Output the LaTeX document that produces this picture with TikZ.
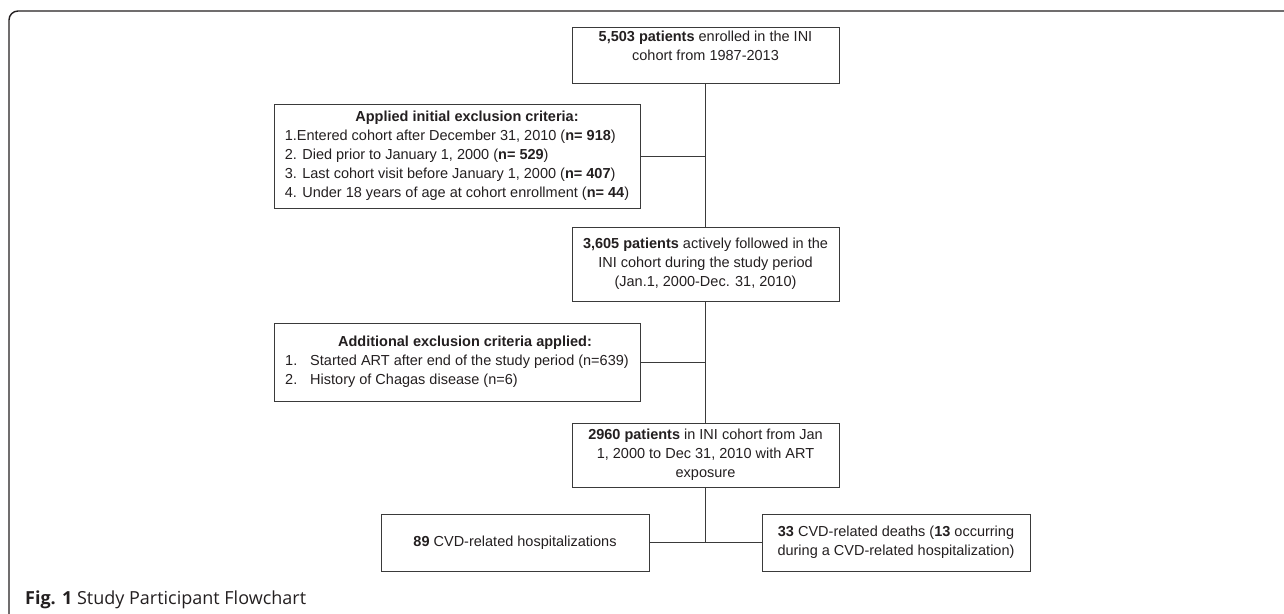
\documentclass[tikz,border=0pt]{standalone}
\usepackage{fontspec}
\setmainfont{Liberation Sans}
\newfontfamily\capfont{Open Sans}
\definecolor{ink}{HTML}{231F20}
\definecolor{boxline}{HTML}{3A3A3A}
\begin{document}
\begin{tikzpicture}[x=1pt,y=-1pt,
  box/.style={draw=boxline,line width=0.9pt,rectangle,inner sep=0pt,
    font=\fontsize{14.5}{19}\selectfont,text=ink,align=center},
  conn/.style={draw=boxline,line width=0.9pt},
  frameline/.style={draw=ink,line width=1.4pt,rounded corners=9pt}]
\useasboundingbox (0,0) rectangle (1284,613);
\draw[frameline] (9,614) -- (9,11) -- (1285,11);

\node[box,minimum width=267pt,minimum height=56pt] (b1) at (705.5,55)
  {\textbf{5,503 patients} enrolled in the INI\\cohort from 1987-2013\\\mbox{}};

\node[box,minimum width=366pt,minimum height=104pt] (b2) at (457,156)
  {\begin{tabular}{@{}l@{}}
   \multicolumn{1}{@{}c@{}}{\hspace{20pt}\bfseries Applied initial exclusion criteria:}\\
   1.Entered cohort after December 31, 2010 (\textbf{n= 918})\\
   2. Died prior to January 1, 2000 (\textbf{n= 529})\\
   3. Last cohort visit before January 1, 2000 (\textbf{n= 407})\\
   4. Under 18 years of age at cohort enrollment (\textbf{n= 44})
   \end{tabular}};

\node[box,minimum width=267pt,minimum height=74pt] (b3) at (705.5,264)
  {\textbf{3,605 patients} actively followed in the\\INI cohort during the study period\\(Jan.1, 2000-Dec. 31, 2010)};

\node[box,minimum width=366pt,minimum height=78pt] (b4) at (457,362)
  {\begin{tabular}{@{}p{25pt}@{}l@{}}
   \multicolumn{2}{@{}c@{}}{\hspace{16pt}\bfseries Additional exclusion criteria applied:}\\
   1. & Started ART after end of the study period (n=639)\\
   2. & History of Chagas disease (n=6)\\
   \end{tabular}};

\node[box,minimum width=267pt,minimum height=64pt] (b5) at (705.5,455)
  {\textbf{2960 patients} in INI cohort from Jan\\1, 2000 to Dec 31, 2010 with ART\\exposure};

\node[box,minimum width=268pt,minimum height=57pt] (b6) at (515,542.5)
  {\textbf{89} CVD-related hospitalizations};

\node[box,minimum width=268pt,minimum height=57pt] (b7) at (896,542.5)
  {\textbf{33} CVD-related deaths (\textbf{13} occurring\\during a CVD-related hospitalization)};

\node[anchor=base west,inner sep=0pt,font=\capfont\fontsize{18}{22}\selectfont,text=ink] (cap) at (25,604)
  {\textbf{Fig. 1} Study Participant Flowchart};

\draw[conn] (b1.south) -- (b3.north);
\draw[conn] (b2.east) -- (b2.east -| b1.south);
\draw[conn] (b3.south) -- (b5.north);
\draw[conn] (b4.east) -- (b4.east -| b3.south);
\draw[conn] (b5.south) -- (b5.south |- b6.east);
\draw[conn] (b6.east) -- (b7.west);
\end{tikzpicture}
\end{document}
